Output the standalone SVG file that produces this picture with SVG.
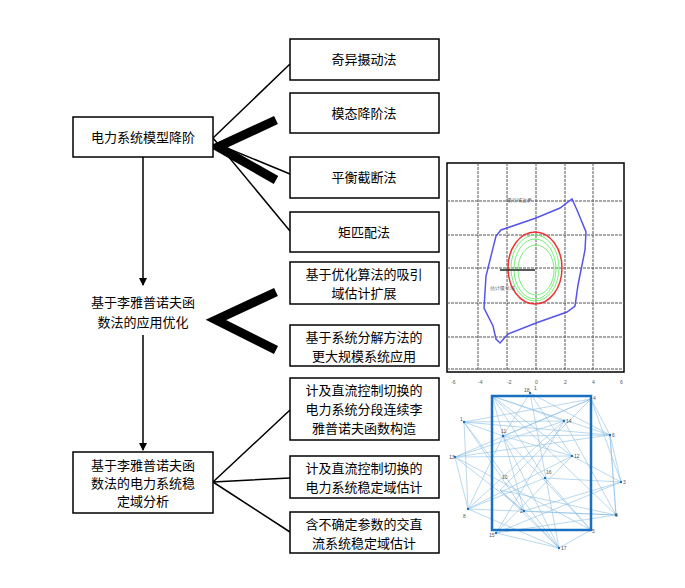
<svg xmlns="http://www.w3.org/2000/svg" width="685" height="588" viewBox="0 0 685 588">
<style>
.b{fill:#fff;stroke:#000;stroke-width:1.5}
.t{font-family:"Noto Sans CJK SC",sans-serif;font-size:13px;text-anchor:middle;fill:#000}
.l{stroke:#000;stroke-width:1.5;fill:none}
.g{stroke:#555;stroke-width:1;stroke-dasharray:3 1;fill:none}
.e{stroke:#5aa5dc;stroke-width:0.6;opacity:0.7}
.nt{font-family:"Liberation Sans",sans-serif;font-size:5px;fill:#555}
</style>
<defs><marker id="a" markerWidth="8" markerHeight="8" refX="7" refY="4" orient="auto" markerUnits="userSpaceOnUse"><path d="M0,0L8,4L0,8z" fill="#000"/></marker></defs>
<rect width="685" height="588" fill="#fff"/>
<g id="connectors">
<path class="l" d="M143,157V285" marker-end="url(#a)"/>
<path class="l" d="M143,335V450" marker-end="url(#a)"/>
<path class="l" d="M213,138L290,64M213,138L290,231M222,146L290,174"/>
<path d="M276,120L218,147L276,180" stroke="#000" stroke-width="9" fill="none"/>
<path d="M276,292L216,320L276,350" stroke="#000" stroke-width="9" fill="none"/>
<path class="l" d="M213,482L290,410M213,482L290,478M213,482L290,532"/>
</g>
<g id="n1"><rect class="b" x="73" y="117" width="140" height="40"/><text class="t" x="143" y="142">电力系统模型降阶</text></g>
<g id="n2"><text class="t" x="143" y="307">基于李雅普诺夫函</text><text class="t" x="143" y="327">数法的应用优化</text></g>
<g id="n3"><rect class="b" x="73" y="452" width="140" height="61"/><text class="t" x="143" y="470">基于李雅普诺夫函</text><text class="t" x="143" y="488">数法的电力系统稳</text><text class="t" x="143" y="506">定域分析</text></g>
<g id="r1"><rect class="b" x="290" y="39" width="149" height="41"/><text class="t" x="364" y="64">奇异摄动法</text></g>
<g id="r2"><rect class="b" x="290" y="93" width="149" height="40"/><text class="t" x="364" y="118">模态降阶法</text></g>
<g id="r3"><rect class="b" x="290" y="157" width="149" height="41"/><text class="t" x="364" y="182">平衡截断法</text></g>
<g id="r4"><rect class="b" x="290" y="212" width="149" height="40"/><text class="t" x="364" y="237">矩匹配法</text></g>
<g id="r5"><rect class="b" x="290" y="262" width="149" height="42"/><text class="t" x="364" y="279">基于优化算法的吸引</text><text class="t" x="364" y="298">域估计扩展</text></g>
<g id="r6"><rect class="b" x="290" y="325" width="149" height="41"/><text class="t" x="364" y="342">基于系统分解方法的</text><text class="t" x="364" y="361">更大规模系统应用</text></g>
<g id="r7"><rect class="b" x="290" y="378" width="149" height="62"/><text class="t" x="364" y="395">计及直流控制切换的</text><text class="t" x="364" y="414">电力系统分段连续李</text><text class="t" x="364" y="433">雅普诺夫函数构造</text></g>
<g id="r8"><rect class="b" x="290" y="456" width="149" height="42"/><text class="t" x="364" y="473">计及直流控制切换的</text><text class="t" x="364" y="492">电力系统稳定域估计</text></g>
<g id="r9"><rect class="b" x="290" y="512" width="149" height="41"/><text class="t" x="364" y="529">含不确定参数的交直</text><text class="t" x="364" y="548">流系统稳定域估计</text></g>
<g id="plot">
<rect x="447" y="163" width="177" height="209" fill="#fff" stroke="#000" stroke-width="1.5"/>
<path class="g" d="M478,163V372M507,163V372M536,163V372M565,163V372M593,163V372M447,201H624M447,235H624M447,268H624M447,303H624M447,337H624M447,369H624"/>
<path d="M572,199L577,210L586,232L585,250L578,285L575,306L567,312L536,323L508,334L500,343L496,339L493,326L484,308L486,276L496,236L501,230L536,218L560,208Z" fill="none" stroke="#5555ee" stroke-width="1.5"/>
<ellipse cx="535" cy="268" rx="27" ry="36" fill="none" stroke="#e33" stroke-width="1.5"/>
<ellipse cx="535" cy="268" rx="24" ry="33" fill="none" stroke="#7e7" stroke-width="1"/>
<ellipse cx="535" cy="269" rx="21" ry="30" fill="none" stroke="#7e7" stroke-width="1"/>
<ellipse cx="536" cy="270" rx="18" ry="25" fill="none" stroke="#7e7" stroke-width="1"/>
<path d="M500,270H535" stroke="#222" stroke-width="1.5"/>
<text class="nt" x="507" y="202">吸引域边界</text><text class="nt" x="490" y="290">估计吸引域</text>
<g class="nt" font-size="4"><text x="451" y="384">-6</text><text x="478" y="384">-4</text><text x="507" y="384">-2</text><text x="535" y="384">0</text><text x="564" y="384">2</text><text x="592" y="384">4</text><text x="620" y="384">6</text></g>
</g>
<g id="graph">
<g class="e">
<path d="M492,396L564,421M492,396L572,456M492,396L610,435M492,396L524,511M492,396L545,478M492,396L616,515M530,393L503,436M530,393L572,456M530,393L559,548M530,393L610,435M591,399L503,436M591,399L455,457M591,399L464,422M591,399L621,482M591,399L500,490M464,422L564,421M464,422L503,436M464,422L524,511M464,422L559,548M464,422L610,435M564,421L455,457M564,421L468,509M564,421L616,515M564,421L496,533M503,436L610,435M503,436L572,456M503,436L468,509M503,436L591,530M503,436L559,548M455,457L572,456M455,457L524,511M455,457L591,530M455,457L610,435M572,456L468,509M572,456L621,482M572,456L496,533M545,478L621,482M545,478L468,509M545,478L591,530M621,482L524,511M621,482L496,533M621,482L610,435M468,509L616,515M468,509L559,548M524,511L616,515M524,511L559,548M616,515L496,533M616,515L610,435M591,530L559,548M496,533L559,548M500,490L616,515M500,490L524,511M500,490L559,548M591,399L610,435M610,435L616,515M464,422L468,509M455,457L468,509"/>
</g>
<rect x="492" y="396" width="99" height="134" fill="none" stroke="#1a70c0" stroke-width="2.5"/>
<g fill="#1a70c0"><circle cx="530" cy="393" r="1.2"/><circle cx="591" cy="399" r="1.2"/><circle cx="464" cy="422" r="1.2"/><circle cx="564" cy="421" r="1.2"/><circle cx="503" cy="436" r="1.2"/><circle cx="610" cy="435" r="1.2"/><circle cx="455" cy="457" r="1.2"/><circle cx="572" cy="456" r="1.2"/><circle cx="545" cy="478" r="1.2"/><circle cx="621" cy="482" r="1.2"/><circle cx="468" cy="509" r="1.2"/><circle cx="524" cy="511" r="1.2"/><circle cx="616" cy="515" r="1.2"/><circle cx="496" cy="533" r="1.2"/><circle cx="559" cy="548" r="1.2"/></g>
<g class="nt"><text x="524" y="392">18</text><text x="534" y="390">1</text><text x="593" y="400">4</text><text x="460" y="421">1</text><text x="566" y="423">14</text><text x="501" y="433">11</text><text x="612" y="437">6</text><text x="449" y="459">13</text><text x="574" y="458">12</text><text x="546" y="474">16</text><text x="502" y="479">10</text><text x="623" y="484">3</text><text x="463" y="518">8</text><text x="520" y="513">2</text><text x="615" y="517">9</text><text x="592" y="533">5</text><text x="489" y="537">15</text><text x="561" y="550">17</text></g>
</g>
</svg>
